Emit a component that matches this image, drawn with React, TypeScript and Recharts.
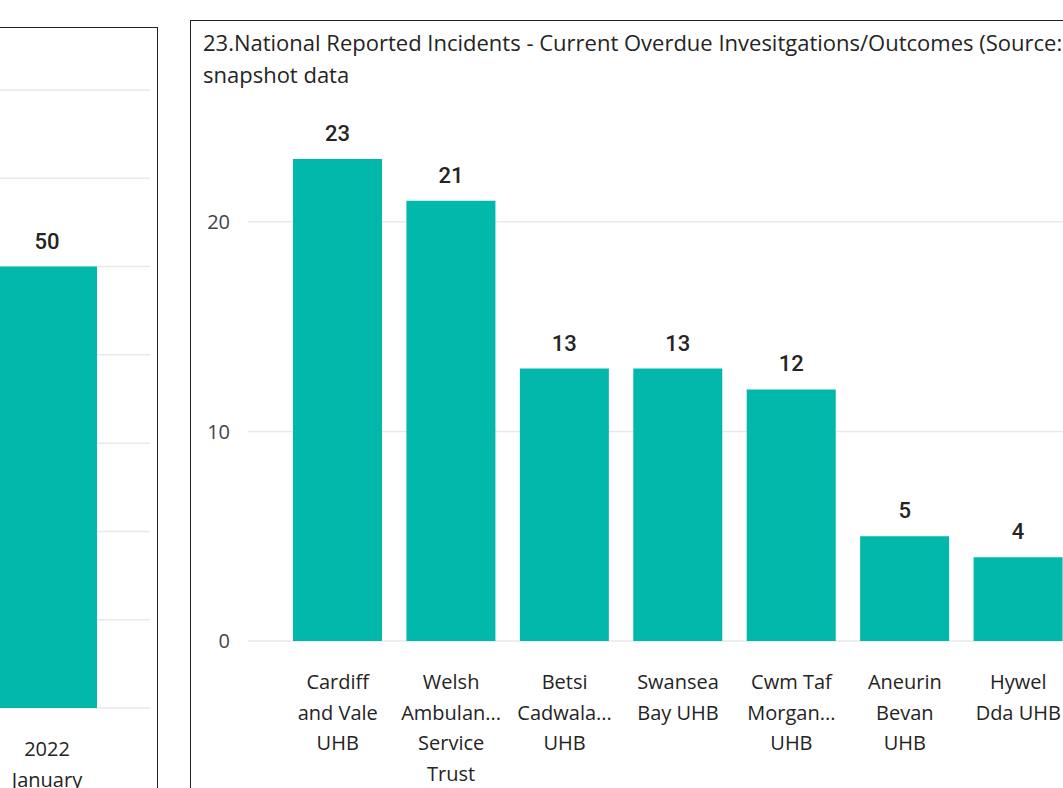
import { BarChart, Bar, XAxis, YAxis, CartesianGrid, LabelList } from 'recharts';

// left panel (mostly cropped off the page)
const monthCategories = ['2022 January'];
const monthValues = [50];
const monthTickLines = [['2022', 'January']];
const monthTicks = [0, 10, 20, 30, 40, 50, 60, 70];

// right panel
const boards = [
  'Cardiff and Vale UHB',
  'Welsh Ambulance Service Trust',
  'Betsi Cadwaladr UHB',
  'Swansea Bay UHB',
  'Cwm Taf Morgannwg UHB',
  'Aneurin Bevan UHB',
  'Hywel Dda UHB'
];
const overdue = [23, 21, 13, 13, 12, 5, 4];
const boardTickLines = [
  ['Cardiff', 'and Vale', 'UHB'],
  ['Welsh', 'Ambulan...', 'Service', 'Trust'],
  ['Betsi', 'Cadwala...', 'UHB'],
  ['Swansea', 'Bay UHB'],
  ['Cwm Taf', 'Morgan...', 'UHB'],
  ['Aneurin', 'Bevan', 'UHB'],
  ['Hywel', 'Dda UHB']
];
const countTicks = [0, 10, 20];

const titleLines = [
  '23.National Reported Incidents - Current Overdue Invesitgations/Outcomes (Source: Datix Cymru) -',
  'snapshot data'
];

const TEAL = '#01B8AA';
const UI_FONT = '"Open Sans", sans-serif';
const LABEL_FONT = 'Roboto, sans-serif';

const monthData = monthCategories.map((name, i) => ({ name, value: monthValues[i] }));
const boardData = boards.map((name, i) => ({ name, value: overdue[i] }));

const makeTick = (linesFor: string[][], names: string[], firstDy: number) => (props: any) => {
  const { x, y, payload } = props;
  const idx = names.indexOf(payload.value);
  const lines = idx >= 0 ? linesFor[idx] : [String(payload.value)];
  return (
    <text x={x} y={y} textAnchor="middle" fill="#252423" fontFamily={UI_FONT} fontSize={20}>
      {lines.map((l, i) => (
        <tspan key={i} x={x} dy={i === 0 ? firstDy : 30.5}>
          {l}
        </tspan>
      ))}
    </text>
  );
};

const App = () => {
  return (
    <div style={{ position: 'fixed', left: 0, top: 0, width: 1063, height: 788, overflow: 'hidden', background: '#fff' }}>
      {/* left panel */}
      <div style={{ position: 'absolute', left: -10, top: 27, width: 168, height: 800, border: '1.5px solid #222', boxSizing: 'border-box' }} />
      <div style={{ position: 'absolute', left: -26, top: 27 }}>
        <BarChart width={176} height={780} data={monthData} margin={{ top: 63, right: 0, bottom: 19, left: 0 }}>
          <CartesianGrid vertical={false} stroke="#e9e9e9" strokeWidth={1.5} />
          <YAxis hide domain={[0, 70]} ticks={monthTicks} />
          <XAxis
            dataKey="name"
            axisLine={false}
            tickLine={false}
            tickSize={0}
            height={80}
            padding={{ left: 0, right: 30 }}
            interval={0}
            tick={makeTick(monthTickLines, monthCategories, 46)}
          />
          <Bar dataKey="value" fill={TEAL} barSize={100} isAnimationActive={false}>
            <LabelList dataKey="value" position="top" offset={18} fill="#252423" fontFamily={LABEL_FONT} fontWeight={500} fontSize={22} />
          </Bar>
        </BarChart>
      </div>

      {/* right panel */}
      <div style={{ position: 'absolute', left: 190, top: 20, width: 900, height: 800, border: '1.5px solid #222', boxSizing: 'border-box' }} />
      <div style={{ position: 'absolute', left: 203, top: 26, fontFamily: UI_FONT, fontSize: 22, lineHeight: '32px', color: '#252423', whiteSpace: 'nowrap' }}>
        {titleLines.map((t, i) => (
          <div key={i}>{t}</div>
        ))}
      </div>
      <div style={{ position: 'absolute', left: 191, top: 21 }}>
        <BarChart width={884} height={800} data={boardData} margin={{ top: 96, right: 0, bottom: 40, left: 0 }}>
          <CartesianGrid vertical={false} stroke="#e9e9e9" strokeWidth={1.5} horizontalValues={countTicks} />
          <YAxis
            width={57}
            domain={[0, 25]}
            ticks={countTicks}
            axisLine={false}
            tickLine={false}
            tickSize={0}
            tickMargin={18}
            tick={{ fill: '#444', fontFamily: UI_FONT, fontSize: 20 }}
          />
          <XAxis
            dataKey="name"
            axisLine={false}
            tickLine={false}
            tickSize={0}
            height={140}
            padding={{ left: 33, right: 0 }}
            interval={0}
            tick={makeTick(boardTickLines, boards, 46)}
          />
          <Bar dataKey="value" fill={TEAL} barSize={89} isAnimationActive={false}>
            <LabelList dataKey="value" position="top" offset={18} fill="#252423" fontFamily={LABEL_FONT} fontWeight={500} fontSize={22} />
          </Bar>
        </BarChart>
      </div>
    </div>
  );
};

export default App;
